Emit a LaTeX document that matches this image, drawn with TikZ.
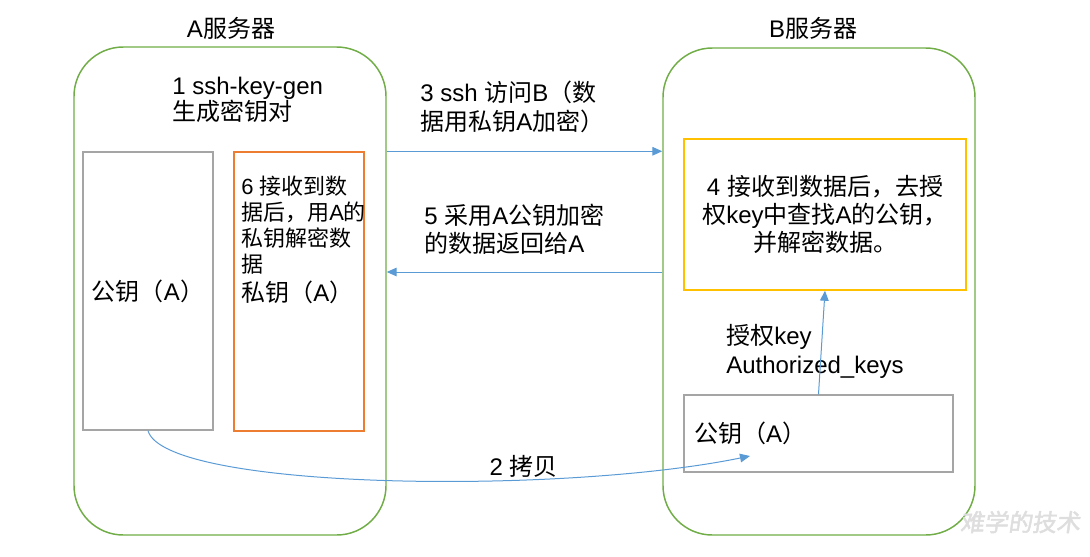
\documentclass[tikz,border=0pt]{standalone}
\usepackage{fontspec}
\setmainfont{Liberation Sans}
\newfontfamily\cjk{Noto Sans CJK SC}
\newfontfamily\wmark{Noto Sans CJK SC}[FakeSlant=0.15,FakeBold=2]
\newcommand\zh[1]{{\cjk #1}}
\usetikzlibrary{arrows.meta}
\usepackage{xcolor}
\definecolor{srvgreen}{HTML}{70AD47}
\definecolor{keygray}{HTML}{A5A5A5}
\definecolor{privorange}{HTML}{ED7D31}
\definecolor{authyellow}{HTML}{FFC000}
\definecolor{flowblue}{HTML}{5B9BD5}
\newdimen\pxu \pxu=0.75pt

\begin{document}
\begin{tikzpicture}[x=0.75pt,y=-0.75pt,>={Triangle[length=7.5pt,width=6.5pt]},
  server/.style={draw=srvgreen,line width=1.1pt,rounded corners=37pt,minimum width=312\pxu,minimum height=488\pxu,inner sep=0pt},
  keybox/.style={draw=#1,line width=1.1pt,inner sep=0pt,font=\fontsize{18}{21}\selectfont},
  lbl/.style={font=\fontsize{18}{21.75}\selectfont,align=left,inner sep=0pt,text=black},
  flow/.style={->,flowblue,line width=0.75pt}]
\useasboundingbox (0,0) rectangle (1090,557);
% the two servers
\node[server] (srvA) at (230,291) {};
\node[server,minimum height=487\pxu] (srvB) at (819,291.5) {};
\node[lbl] (titleA) at (231,28) {A\zh{服务器}};
\node[lbl] (titleB) at (813,28) {B\zh{服务器}};
% server A
\node[lbl,anchor=west,font=\fontsize{18}{19.5}\selectfont] (genLbl) at (172,100) {1 ssh-key-gen\\\zh{生成密钥对}};
\node[keybox=keygray,minimum width=130\pxu,minimum height=278\pxu] (pubA) at (148,291) {\zh{公钥（}A\zh{）}};
\node[keybox=privorange,minimum width=130\pxu,minimum height=279\pxu] (privA) at (299,291.5) {};
\node[lbl,anchor=north west,font=\fontsize{16.5}{19.5}\selectfont] (privTxt) at (241,176)
  {6 \zh{接收到数}\\\zh{据后，用}A\zh{的}\\\zh{私钥解密数}\\\zh{据}\\[2pt]{\fontsize{18}{20}\selectfont\zh{私钥（}A\zh{）}}};
% server B
\node[keybox=authyellow,minimum width=282\pxu,minimum height=151\pxu,align=center] (authBox) at (825,214.5)
  {4 \zh{接收到数据后，去授}\\\zh{权}key\zh{中查找}A\zh{的公钥，}\\\zh{并解密数据。}};
\node[keybox=keygray,minimum width=269\pxu,minimum height=77\pxu,text width=249\pxu,align=left] (pubB) at (818.5,433.5) {\zh{公钥（}A\zh{）}};
\node[lbl,anchor=west] (authLbl) at (726,351) {\zh{授权}key\\Authorized\_keys};
% messages
\node[lbl,anchor=west] (sshLbl) at (420,107) {3 ssh \zh{访问}B\zh{（数}\\\zh{据用私钥}A\zh{加密）}};
\node[lbl,anchor=west,font=\fontsize{18}{21}\selectfont] (backLbl) at (424,229) {5 \zh{采用}A\zh{公钥加密}\\\zh{的数据返回给}A};
\coordinate (backY) at (0,272);
\coordinate (copyEnd) at (750,456);
\draw[flow] (srvA.east |- privA.north) -- (srvB.west |- privA.north);
\draw[flow] (srvB.west |- backY) -- (srvA.east |- backY);
\draw[flow] (pubB.north) -- (authBox.south);
\draw[flow] (pubA.south) .. controls (165,490) and (560,495) .. (copyEnd)
  node[pos=0.68,above=1pt,lbl] (copyLbl) {2 \zh{拷贝}};
% watermark
\node[text=black!13,font=\wmark\fontsize{18}{20}\selectfont] (wm) at (1020,522) {难学的技术};
\end{tikzpicture}
\end{document}
